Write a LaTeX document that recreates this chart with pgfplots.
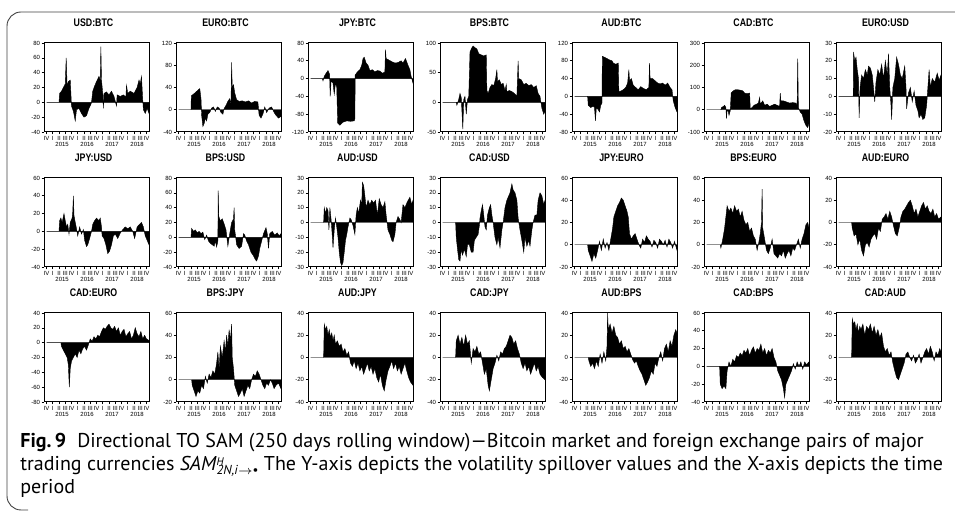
\documentclass[border=0pt]{standalone}
\usepackage{fontspec}
\usepackage{pgfplots}
\pgfplotsset{compat=1.18}
\setmainfont{PT Sans}
\newfontfamily\titlefam[FakeStretch=0.8]{Liberation Sans}
\newfontfamily\tickfam{Liberation Sans}
\newfontfamily\capfam{PT Sans}

\pgfplotsset{panel/.style={
    scale only axis, width=52.5pt, height=44.5pt,
    xmin=-0.4, xmax=16.4,
    xtick={0,...,16},
    xticklabels={IV,I,II,III,IV,I,II,III,IV,I,II,III,IV,I,II,III,IV},
    extra x ticks={2.5,6.5,10.5,14.5},
    extra x tick labels={2015,2016,2017,2018},
    extra x tick style={major tick length=0pt, tick label style={yshift=-4.5pt}},
    tick align=outside, xtick pos=bottom, ytick pos=left,
    major tick length=1.2pt,
    tick style={line width=0.3pt, black},
    axis line style={line width=0.5pt},
    ticklabel style={font=\tickfam\fontsize{3}{3}\selectfont, inner sep=0.6pt},
    /pgf/number format/assume math mode=true,
    title style={font=\titlefam\bfseries\fontsize{5.5}{6}\selectfont, yshift=-1.5pt, xshift=-1.5pt},
    axis on top,
}}

% #1 position, #2 title, #3 ymin, #4 ymax, #5 yticks, #6 data
\newcommand{\panel}[6]{%
  \begin{axis}[panel, at={(#1)}, anchor=north west, title={#2},
      ymin=#3, ymax=#4, ytick={#5}]
    \addplot[fill=black, draw=black, line width=0.2pt] coordinates {#6} \closedcycle;
  \end{axis}}

\begin{document}
\begin{tikzpicture}
\useasboundingbox (0,0) rectangle (477.5pt,-258.5pt);
\draw[rounded corners=7pt, line width=0.45pt, black!75] (477.5pt,-6pt) -- (3.5pt,-6pt) -- (3.5pt,-255pt) -- (14pt,-255pt);

% ---- row 1
\panel{22pt,-21.5pt}{USD:BTC}{-40}{80}{-40,-20,...,80}{(0,0)(2.0,0)(2.1,12)(2.4,15)(2.7,20)(3.0,25)(3.15,60)(3.3,22)(3.5,28)(3.8,30)(4.0,-5)(4.3,-12)(4.6,-25)(4.8,-10)(5.2,-8)(5.6,-15)(6.0,-20)(6.4,-18)(6.8,-8)(7.1,-3)(7.2,0)(7.4,15)(7.7,22)(8.0,28)(8.4,35)(8.6,30)(8.7,75)(8.8,30)(9.0,12)(9.1,-8)(9.2,12)(9.6,14)(10.0,10)(10.4,15)(10.8,8)(11.2,-5)(11.3,10)(11.8,8)(12.3,10)(12.7,7)(12.8,23)(13.0,12)(13.4,15)(14.0,12)(14.5,20)(14.8,30)(15.0,25)(15.2,35)(15.35,10)(15.5,-10)(15.8,-15)(16.1,-8)(16.4,-15)}
\panel{88pt,-21.5pt}{EURO:BTC}{-40}{120}{-40,0,...,120}{(0,0)(2.0,0)(2.05,25)(2.4,28)(2.8,32)(3.1,35)(3.4,38)(3.6,20)(3.7,-10)(3.9,-30)(4.1,-25)(4.3,-15)(4.5,-20)(4.7,-8)(5.0,-5)(5.3,3)(5.6,5)(5.9,-3)(6.2,5)(6.5,3)(6.8,-5)(7.1,-8)(7.3,2)(7.6,8)(7.9,15)(8.2,20)(8.4,10)(8.5,85)(8.6,40)(8.8,45)(9.0,30)(9.3,18)(9.7,15)(10.2,16)(10.7,14)(11.2,16)(11.7,12)(12.2,15)(12.7,14)(12.9,-10)(13.2,-15)(13.5,-8)(13.8,5)(14.1,-5)(14.5,3)(14.9,5)(15.3,-5)(15.6,-10)(16.0,-15)(16.4,-12)}
\panel{154pt,-21.5pt}{JPY:BTC}{-120}{80}{-120,-80,...,80}{(0,0)(1.9,0)(2.0,-5)(2.2,5)(2.5,12)(2.8,18)(3.05,10)(3.15,-40)(3.3,-5)(3.6,-10)(3.8,-35)(4.0,-10)(4.2,-20)(4.35,-100)(4.7,-105)(5.2,-98)(5.8,-95)(6.4,-96)(7.0,-95)(7.1,-90)(7.15,8)(7.5,15)(7.9,20)(8.2,30)(8.4,45)(8.6,48)(8.9,35)(9.2,30)(9.5,18)(9.9,20)(10.3,15)(10.7,18)(11.1,17)(11.5,12)(11.9,15)(12.0,65)(12.1,45)(12.5,42)(13.0,38)(13.5,35)(14.0,36)(14.5,40)(14.8,35)(15.2,45)(15.6,30)(15.9,20)(16.1,5)(16.4,-10)}
\panel{220pt,-21.5pt}{BPS:BTC}{-50}{100}{-50,0,50,100}{(0,0)(2.2,0)(2.3,-5)(2.6,5)(2.8,15)(3.0,8)(3.25,-45)(3.4,5)(3.6,10)(3.8,-20)(4.0,5)(4.2,10)(4.4,85)(4.7,92)(4.9,95)(5.2,92)(5.5,90)(5.8,82)(6.2,80)(6.6,78)(7.0,80)(7.1,20)(7.3,15)(7.6,25)(7.9,30)(8.2,28)(8.5,40)(8.7,55)(8.8,35)(9.1,38)(9.4,30)(9.7,32)(10.0,20)(10.2,30)(10.3,18)(10.7,20)(11.1,18)(11.5,15)(11.9,10)(12.1,70)(12.2,40)(12.6,38)(13.0,30)(13.4,32)(13.8,28)(14.2,30)(14.6,25)(15.0,28)(15.3,15)(15.6,10)(15.9,-10)(16.2,-20)(16.4,-15)}
\panel{286pt,-21.5pt}{AUD:BTC}{-80}{120}{-80,-40,...,120}{(0,0)(2.1,0)(2.2,-20)(2.6,-25)(3.0,-22)(3.2,-25)(3.35,-55)(3.5,-25)(3.8,-30)(4.0,-35)(4.2,-20)(4.4,-15)(4.45,90)(4.8,88)(5.2,85)(5.6,82)(6.0,80)(6.2,75)(6.6,72)(7.0,75)(7.1,10)(7.4,12)(7.8,15)(8.2,20)(8.5,30)(8.7,60)(8.8,35)(9.1,40)(9.4,25)(9.8,20)(10.2,15)(10.6,22)(11.0,18)(11.5,15)(11.9,20)(12.0,75)(12.1,40)(12.5,40)(12.9,35)(13.3,30)(13.7,28)(14.1,30)(14.5,25)(14.9,30)(15.3,20)(15.6,15)(15.8,-10)(16.1,-25)(16.4,-35)}
\panel{352pt,-21.5pt}{CAD:BTC}{-100}{300}{-100,0,...,300}{(0,0)(2.3,0)(2.4,10)(2.7,15)(2.9,20)(3.1,10)(3.2,-40)(3.3,0)(3.5,-10)(3.6,-25)(3.8,-5)(3.95,75)(4.3,85)(4.6,90)(5.0,90)(5.4,88)(5.8,85)(6.1,75)(6.5,72)(6.9,75)(7.0,5)(7.3,10)(7.6,20)(8.0,25)(8.3,30)(8.5,55)(8.6,25)(9.0,40)(9.3,20)(9.7,25)(10.1,15)(10.5,20)(10.9,25)(11.3,20)(11.7,15)(11.8,75)(11.9,40)(12.3,40)(12.8,35)(13.3,30)(13.8,32)(14.3,30)(14.5,20)(14.6,230)(14.7,10)(15.0,-10)(15.3,-20)(15.6,-50)(15.9,-70)(16.2,-80)(16.4,-60)}
\panel{418pt,-21.5pt}{EURO:USD}{-20}{30}{-20,-10,...,30}{(0,0)(2.35,0)(2.4,25)(2.6,20)(2.8,22)(3.0,15)(3.2,10)(3.3,-12)(3.45,5)(3.7,12)(4.0,10)(4.3,15)(4.6,12)(4.8,17)(5.1,16)(5.4,12)(5.6,5)(5.8,-3)(6.0,8)(6.3,15)(6.6,12)(6.9,18)(7.2,10)(7.5,20)(7.8,12)(8.0,24)(8.2,5)(8.4,-5)(8.5,-13)(8.7,5)(9.0,10)(9.3,22)(9.6,18)(9.9,12)(10.2,10)(10.6,17)(10.8,5)(10.9,-7)(11.2,2)(11.5,5)(11.8,-3)(12.1,3)(12.4,-5)(12.7,-8)(12.9,-12)(13.2,-10)(13.5,-13)(13.8,-12)(14.1,-5)(14.3,5)(14.5,15)(14.7,5)(15.0,10)(15.4,8)(15.8,13)(16.1,9)(16.4,12)}

% ---- row 2
\panel{22pt,-89pt}{JPY:USD}{-40}{60}{-40,-20,...,60}{(0,0)(2.0,0)(2.1,12)(2.3,15)(2.5,10)(2.8,20)(3.0,12)(3.2,5)(3.4,8)(3.6,-3)(3.8,10)(4.1,15)(4.2,22)(4.3,40)(4.4,18)(4.6,10)(4.8,3)(5.0,-5)(5.3,5)(5.6,-3)(5.9,2)(6.1,-10)(6.4,-17)(6.6,-15)(6.9,-8)(7.2,0)(7.4,8)(7.7,12)(8.0,15)(8.4,12)(8.6,15)(8.8,5)(8.9,-5)(9.2,-8)(9.5,-15)(9.8,-25)(10.1,-22)(10.4,-15)(10.7,-5)(11.0,-3)(11.4,-8)(11.8,-2)(12.2,2)(12.6,5)(13.0,3)(13.4,5)(13.8,0)(14.1,-8)(14.5,5)(14.9,8)(15.2,10)(15.5,5)(15.8,-5)(16.1,-10)(16.4,-15)}
\panel{88pt,-89pt}{BPS:USD}{-40}{80}{-40,-20,...,80}{(0,0)(2.0,0)(2.1,12)(2.4,8)(2.7,10)(3.0,6)(3.3,8)(3.6,5)(3.9,7)(4.2,-3)(4.5,3)(4.8,-5)(5.1,-8)(5.4,-10)(5.7,-12)(5.9,-5)(6.1,-13)(6.3,-5)(6.35,63)(6.45,28)(6.7,22)(7.0,25)(7.3,18)(7.6,10)(7.9,-12)(8.2,5)(8.5,20)(8.8,25)(8.9,40)(9.0,10)(9.3,-10)(9.7,-15)(10.1,-12)(10.4,5)(10.6,3)(10.9,-5)(11.2,-10)(11.6,-20)(12.0,-25)(12.3,-30)(12.5,-32)(12.8,-25)(13.0,-15)(13.3,-5)(13.6,5)(14.0,13)(14.2,5)(14.4,-15)(14.6,5)(15.0,8)(15.4,3)(15.8,6)(16.1,2)(16.4,5)}
\panel{154pt,-89pt}{AUD:USD}{-30}{30}{-30,-20,...,30}{(0,0)(2.1,0)(2.2,10)(2.4,6)(2.6,10)(2.8,8)(2.95,-5)(3.1,10)(3.3,2)(3.5,-10)(3.6,-17)(3.8,-5)(4.0,3)(4.2,-3)(4.4,-10)(4.6,-20)(4.8,-27)(5.0,-29)(5.2,-27)(5.4,-20)(5.6,-12)(5.8,-8)(6.0,-3)(6.3,3)(6.5,2)(6.8,-2)(7.1,-8)(7.3,5)(7.5,10)(7.7,6)(8.0,15)(8.2,12)(8.3,27)(8.5,25)(8.7,18)(8.9,10)(9.2,15)(9.5,12)(9.8,15)(10.1,13)(10.4,15)(10.7,5)(11.0,16)(11.3,12)(11.6,10)(11.9,14)(12.1,5)(12.4,-5)(12.7,-8)(13.0,-12)(13.2,-13)(13.5,-8)(13.7,0)(14.0,4)(14.3,2)(14.5,0)(14.8,12)(15.1,10)(15.5,14)(15.9,17)(16.2,12)(16.4,15)}
\panel{220pt,-89pt}{CAD:USD}{-30}{30}{-30,-20,...,30}{(0,0)(2.1,0)(2.2,-10)(2.4,-18)(2.6,-25)(2.8,-26)(3.0,-18)(3.2,-22)(3.5,-18)(3.8,-23)(4.0,-15)(4.3,-15)(4.6,-20)(4.9,-20)(5.1,-12)(5.4,-10)(5.7,-8)(5.9,-2)(6.0,3)(6.2,8)(6.4,12)(6.6,5)(6.8,-3)(7.0,-5)(7.2,5)(7.5,10)(7.7,12)(7.9,5)(8.1,0)(8.4,-10)(8.7,-15)(8.9,-10)(9.2,-17)(9.5,-5)(9.7,0)(10.0,10)(10.3,15)(10.6,18)(10.8,20)(11.1,26)(11.3,22)(11.6,20)(11.9,15)(12.1,3)(12.4,-5)(12.7,-12)(13.0,-20)(13.2,-10)(13.5,-16)(13.8,-12)(14.0,-16)(14.3,-5)(14.5,0)(14.8,5)(15.1,5)(15.3,15)(15.6,20)(15.9,18)(16.2,12)(16.4,15)}
\panel{286pt,-89pt}{JPY:EURO}{-20}{60}{-20,0,...,60}{(0,0)(2.1,0)(2.2,-5)(2.5,-10)(2.8,-15)(3.1,-8)(3.4,-12)(3.7,-5)(4.0,3)(4.3,-5)(4.6,5)(4.9,-3)(5.2,2)(5.5,-5)(5.8,5)(6.1,15)(6.3,25)(6.6,30)(6.9,35)(7.2,38)(7.5,42)(7.8,40)(8.1,35)(8.4,30)(8.6,25)(8.8,10)(9.1,5)(9.4,8)(9.7,10)(10.0,5)(10.3,0)(10.6,-3)(10.9,5)(11.2,2)(11.5,8)(11.8,5)(12.1,3)(12.4,-2)(12.7,4)(13.0,2)(13.3,-3)(13.6,5)(13.9,3)(14.2,0)(14.5,4)(14.8,-2)(15.1,5)(15.4,2)(15.7,-3)(16.0,3)(16.4,-5)}
\panel{352pt,-89pt}{BPS:EURO}{-20}{60}{-20,0,...,60}{(0,0)(2.2,0)(2.3,-3)(2.6,5)(2.9,15)(3.1,25)(3.3,35)(3.6,30)(3.9,33)(4.2,28)(4.5,35)(4.8,30)(5.1,32)(5.4,25)(5.7,30)(6.0,22)(6.3,18)(6.6,20)(6.9,12)(7.2,15)(7.5,8)(7.8,5)(8.1,-5)(8.4,3)(8.6,10)(8.8,20)(8.9,50)(9.0,15)(9.3,5)(9.6,-5)(9.9,-8)(10.2,-3)(10.5,5)(10.8,-8)(11.1,-10)(11.4,-12)(11.7,-8)(12.0,-10)(12.3,-5)(12.6,-12)(12.9,-8)(13.2,-5)(13.5,-10)(13.8,-3)(14.1,-5)(14.4,0)(14.7,5)(15.0,-3)(15.3,5)(15.6,10)(15.9,18)(16.2,20)(16.4,15)}
\panel{418pt,-89pt}{AUD:EURO}{-40}{40}{-40,-20,...,40}{(0,0)(2.1,0)(2.2,-5)(2.5,-12)(2.8,-10)(3.1,-20)(3.4,-15)(3.7,-25)(4.0,-30)(4.3,-20)(4.6,-18)(4.9,-22)(5.2,-15)(5.5,-12)(5.8,-10)(6.1,-15)(6.4,-5)(6.7,-8)(7.0,3)(7.3,5)(7.6,8)(7.9,3)(8.2,10)(8.5,5)(8.8,-3)(9.1,-10)(9.4,-12)(9.7,-5)(10.0,5)(10.3,10)(10.6,12)(10.9,15)(11.2,18)(11.5,20)(11.8,15)(12.1,8)(12.4,12)(12.7,5)(13.0,10)(13.3,15)(13.6,18)(13.9,12)(14.2,15)(14.5,10)(14.8,8)(15.1,12)(15.4,5)(15.7,8)(16.0,3)(16.4,5)}

% ---- row 3
\panel{22pt,-156.5pt}{CAD:EURO}{-80}{40}{-80,-60,...,40}{(0,0)(2.3,0)(2.4,-5)(2.7,-10)(3.0,-15)(3.3,-20)(3.5,-30)(3.65,-60)(3.8,-35)(4.0,-25)(4.3,-20)(4.6,-15)(4.9,-20)(5.2,-10)(5.5,-15)(5.8,-8)(6.1,-5)(6.4,-10)(6.7,-3)(7.0,5)(7.3,2)(7.6,8)(7.9,5)(8.2,10)(8.5,8)(8.8,15)(9.1,20)(9.4,18)(9.7,22)(10.0,25)(10.3,20)(10.6,18)(10.9,22)(11.2,15)(11.5,20)(11.8,10)(12.1,15)(12.4,18)(12.7,8)(13.0,12)(13.3,15)(13.6,5)(13.9,10)(14.2,20)(14.5,12)(14.8,8)(15.1,15)(15.4,5)(15.7,10)(16.0,5)(16.4,3)}
\panel{88pt,-156.5pt}{BPS:JPY}{-20}{60}{-20,0,...,60}{(0,0)(2.1,0)(2.2,-5)(2.5,-10)(2.8,-15)(3.1,-10)(3.4,-12)(3.7,-5)(4.0,-8)(4.3,3)(4.6,-3)(4.9,5)(5.2,2)(5.5,8)(5.8,5)(6.1,15)(6.3,25)(6.5,10)(6.7,30)(7.0,20)(7.3,35)(7.5,25)(7.7,40)(7.9,30)(8.1,45)(8.3,35)(8.5,50)(8.6,20)(8.8,10)(9.0,-5)(9.3,-10)(9.6,-15)(9.9,-12)(10.2,-8)(10.5,-15)(10.8,-10)(11.1,-5)(11.4,-8)(11.7,0)(12.0,5)(12.3,3)(12.6,8)(12.9,5)(13.2,0)(13.5,-5)(13.8,-8)(14.1,-3)(14.4,-5)(14.7,0)(15.0,-3)(15.3,-8)(15.6,-5)(16.0,-3)(16.4,-8)}
\panel{154pt,-156.5pt}{AUD:JPY}{-40}{40}{-40,-20,...,40}{(0,0)(2.1,0)(2.2,30)(2.4,25)(2.6,28)(2.8,20)(3.0,25)(3.2,18)(3.4,22)(3.6,15)(3.8,20)(4.0,12)(4.3,15)(4.6,10)(4.9,12)(5.2,5)(5.5,8)(5.8,2)(6.1,5)(6.4,-5)(6.7,-8)(7.0,-3)(7.3,-10)(7.6,-5)(7.9,-12)(8.2,-8)(8.5,-15)(8.8,-10)(9.1,-5)(9.4,-12)(9.7,-8)(10.0,-15)(10.3,-10)(10.6,-18)(10.9,-22)(11.2,-15)(11.5,-25)(11.8,-30)(12.1,-20)(12.4,-12)(12.7,-8)(13.0,-3)(13.3,-10)(13.6,-5)(13.9,-12)(14.2,-8)(14.5,-15)(14.8,-10)(15.1,-5)(15.4,-12)(15.7,-18)(16.0,-22)(16.4,-25)}
\panel{220pt,-156.5pt}{CAD:JPY}{-40}{40}{-40,-20,...,40}{(0,0)(2.1,0)(2.2,15)(2.5,20)(2.8,12)(3.1,18)(3.4,10)(3.7,20)(4.0,12)(4.3,15)(4.6,-5)(4.9,8)(5.2,5)(5.5,10)(5.8,3)(6.1,5)(6.4,-5)(6.7,-15)(7.0,-10)(7.3,-25)(7.5,-30)(7.8,-20)(8.1,-10)(8.4,-5)(8.7,2)(9.0,-3)(9.3,5)(9.6,3)(9.9,8)(10.2,10)(10.5,15)(10.8,20)(11.1,18)(11.4,12)(11.7,15)(12.0,8)(12.3,3)(12.6,-5)(12.9,-10)(13.2,-5)(13.5,-12)(13.8,-8)(14.1,-15)(14.4,-10)(14.7,-5)(15.0,-12)(15.3,-8)(15.6,-15)(16.0,-18)(16.4,-20)}
\panel{286pt,-156.5pt}{AUD:BPS}{-40}{40}{-40,-20,...,40}{(0,0)(2.2,0)(2.3,-3)(2.6,-8)(2.9,-5)(3.2,-10)(3.5,-3)(3.8,-8)(4.1,3)(4.4,-5)(4.7,5)(5.0,-3)(5.2,10)(5.3,40)(5.4,25)(5.7,30)(6.0,22)(6.3,28)(6.6,20)(6.9,18)(7.2,12)(7.5,15)(7.8,8)(8.1,10)(8.4,5)(8.7,8)(9.0,3)(9.3,-2)(9.6,-5)(9.9,-3)(10.2,-8)(10.5,-12)(10.8,-15)(11.1,-20)(11.4,-25)(11.7,-22)(12.0,-18)(12.3,-12)(12.6,-15)(12.9,-5)(13.2,-8)(13.5,0)(13.8,5)(14.1,-3)(14.4,8)(14.7,12)(15.0,5)(15.3,15)(15.6,10)(15.9,20)(16.2,25)(16.4,22)}
\panel{352pt,-156.5pt}{CAD:BPS}{-40}{60}{-40,-20,...,60}{(0,0)(2.1,0)(2.2,-20)(2.5,-25)(2.8,-22)(3.1,-25)(3.3,-5)(3.6,5)(3.9,0)(4.2,8)(4.5,5)(4.8,12)(5.1,10)(5.4,15)(5.7,12)(6.0,18)(6.3,15)(6.6,20)(6.9,12)(7.2,18)(7.5,22)(7.8,15)(8.1,20)(8.4,18)(8.7,25)(9.0,15)(9.3,20)(9.6,12)(9.9,18)(10.2,15)(10.5,20)(10.8,10)(11.1,5)(11.4,-5)(11.7,-10)(12.0,-15)(12.3,-25)(12.5,-35)(12.7,-20)(13.0,-15)(13.3,-10)(13.6,-5)(13.9,3)(14.2,-3)(14.5,5)(14.8,0)(15.1,5)(15.4,-3)(15.7,5)(16.0,2)(16.4,5)}
\panel{418pt,-156.5pt}{CAD:AUD}{-40}{40}{-40,-20,...,40}{(0,0)(2.1,0)(2.2,35)(2.4,30)(2.6,32)(2.8,25)(3.0,30)(3.2,22)(3.4,28)(3.6,25)(3.9,30)(4.2,20)(4.5,28)(4.8,25)(5.1,30)(5.4,22)(5.7,28)(6.0,20)(6.3,25)(6.6,18)(6.9,22)(7.2,10)(7.5,5)(7.8,8)(8.1,2)(8.4,5)(8.7,-5)(9.0,-12)(9.3,-18)(9.6,-20)(9.9,-15)(10.2,-10)(10.5,-5)(10.8,3)(11.1,5)(11.4,0)(11.7,-3)(12.0,2)(12.3,-5)(12.6,-2)(12.9,3)(13.2,-5)(13.5,0)(13.8,5)(14.1,8)(14.4,3)(14.7,10)(15.0,5)(15.3,-3)(15.6,5)(15.9,2)(16.2,8)(16.4,5)}

% ---- caption
\node[anchor=base west, inner sep=0pt, font=\capfam\fontsize{10}{11}\selectfont] at (10pt,-224pt)
  {\textbf{Fig.\,9}\hspace{0.55em}Directional TO SAM (250 days rolling window)—Bitcoin market and foreign exchange pairs of major};
\node[anchor=base west, inner sep=0pt, font=\capfam\fontsize{10}{11}\selectfont] at (10pt,-235.5pt)
  {trading currencies \textit{SAM\/}\rlap{\raisebox{2.6pt}{\fontsize{5.5}{6}\selectfont\textit{H}}}\raisebox{-1.8pt}{\fontsize{6.5}{7}\selectfont\textit{2N,i}$\rightarrow$\textbullet} The Y-axis depicts the volatility spillover values and the X-axis depicts the time};
\node[anchor=base west, inner sep=0pt, font=\capfam\fontsize{10}{11}\selectfont] at (10pt,-247pt)
  {period};
\end{tikzpicture}
\end{document}
